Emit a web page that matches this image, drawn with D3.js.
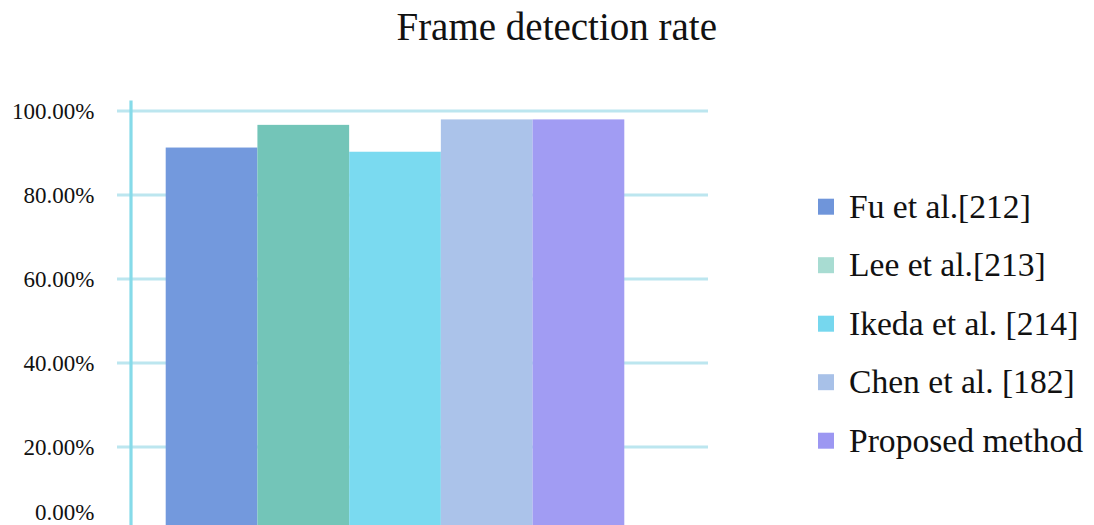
<!DOCTYPE html>
<html>
<head>
<meta charset="utf-8">
<script src="https://cdn.jsdelivr.net/npm/d3@7"></script>
<style>
  html, body { margin: 0; padding: 0; background: #fff; }
  svg { display: block; font-family: "Liberation Serif", "Times New Roman", serif; }
</style>
</head>
<body>
<svg id="chart" width="1094" height="525"></svg>
<script>
// Methods compared, their frame detection rates (%) and colours
const methods = ["Fu et al.[212]", "Lee et al.[213]", "Ikeda et al. [214]", "Chen et al. [182]", "Proposed method"];
const rates = [91.3, 96.7, 90.3, 98.0, 98.0];
const barColors = ["#7399dd", "#73c5b8", "#7adaf0", "#abc3ea", "#a19cf3"];
const legendColors = ["#6f95da", "#a8dcd2", "#76d7ee", "#a8c1e8", "#9c97f2"];
const yTicks = [0, 20, 40, 60, 80, 100];
const titleText = "Frame detection rate";

const svg = d3.select("#chart");

const y = d3.scaleLinear().domain([0, 100]).range([531, 111]);
const x = d3.scaleBand().domain(methods).range([165.7, 624.3]).padding(0);

// title
svg.append("text")
  .attr("x", 556.7).attr("y", 40)
  .attr("text-anchor", "middle")
  .attr("font-size", 39)
  .attr("fill", "#111")
  .text(titleText);

// horizontal gridlines
svg.append("g").selectAll("line")
  .data(yTicks)
  .join("line")
  .attr("x1", 117).attr("x2", 708)
  .attr("y1", d => y(d)).attr("y2", d => y(d))
  .attr("stroke", "#bce6ef")
  .attr("stroke-width", 3.2);

// tick labels
svg.append("g").selectAll("text")
  .data(yTicks)
  .join("text")
  .attr("x", 94.5)
  .attr("y", d => Math.min(y(d), 512))
  .attr("dy", "0.35em")
  .attr("text-anchor", "end")
  .attr("font-size", 23)
  .attr("fill", "#111")
  .text(d => d3.format(".2f")(d) + "%");

// bars
svg.append("g").selectAll("rect")
  .data(methods)
  .join("rect")
  .attr("x", d => x(d))
  .attr("width", x.bandwidth())
  .attr("y", (d, i) => y(rates[i]))
  .attr("height", (d, i) => y(0) - y(rates[i]))
  .attr("fill", (d, i) => barColors[i]);

// vertical axis line
svg.append("line")
  .attr("x1", 131).attr("x2", 131)
  .attr("y1", 100.5).attr("y2", 525)
  .attr("stroke", "#86dbe9")
  .attr("stroke-width", 3.2);

// legend
const legend = svg.append("g").selectAll("g")
  .data(methods)
  .join("g")
  .attr("transform", (d, i) => `translate(818, ${206.7 + i * 58.5})`);

legend.append("rect")
  .attr("x", 0).attr("y", -8)
  .attr("width", 16).attr("height", 16)
  .attr("fill", (d, i) => legendColors[i]);

legend.append("text")
  .attr("x", 31).attr("y", 0)
  .attr("dy", "0.33em")
  .attr("font-size", 33.6)
  .attr("fill", "#111")
  .text(d => d);
</script>
</body>
</html>
